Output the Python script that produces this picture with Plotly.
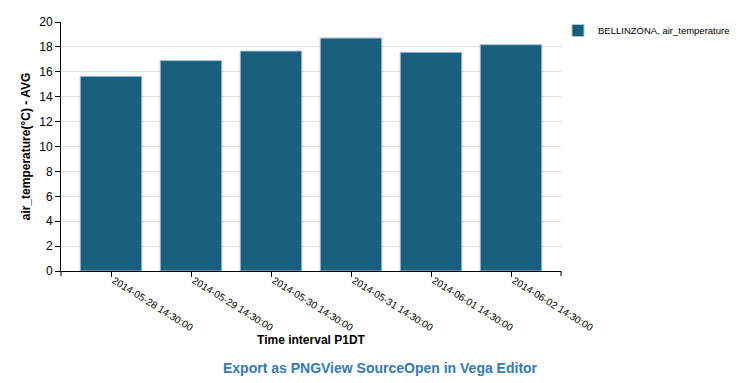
import plotly.graph_objects as go

categories = ["2014-05-28 14:30:00", "2014-05-29 14:30:00", "2014-05-30 14:30:00",
              "2014-05-31 14:30:00", "2014-06-01 14:30:00", "2014-06-02 14:30:00"]
values = [15.64, 16.9, 17.67, 18.71, 17.57, 18.18]
series_name = "BELLINZONA, air_temperature"
y_ticks = list(range(0, 21, 2))

FONT = "Liberation Sans, Arial, sans-serif"
BAR = "#185f7d"

# the page body adds an 8px offset, so the figure is 8px smaller than the window
W, H = 731, 375

fig = go.Figure()
fig.add_trace(go.Bar(
    x=categories, y=values, name=series_name, width=0.77,
    marker=dict(color=BAR, line=dict(color="#a9c6d4", width=1)),
    showlegend=True,
))

fig.update_layout(
    width=W, height=H,
    margin=dict(l=53, r=178, t=14, b=112, autoexpand=False),
    paper_bgcolor="white", plot_bgcolor="white",
    font=dict(family=FONT, size=10, color="#000"),
    showlegend=True,
    legend=dict(xref="container", yref="container", x=550 / W, y=1 - 8 / H,
                xanchor="left", yanchor="top",
                font=dict(size=9.5, color="#000"), itemwidth=30,
                bgcolor="rgba(0,0,0,0)"),
    xaxis=dict(
        type="category", range=[-0.625, 5.625], automargin=False,
        tickangle=32, ticks="outside", ticklen=5, tickcolor="#000",
        ticklabelstandoff=-6, ticklabelshift=3,
        showline=True, linecolor="#000", linewidth=1, showgrid=False,
        tickfont=dict(size=10, color="#000"),
        title=dict(text="<b>Time interval P1DT</b>", font=dict(size=12), standoff=2),
    ),
    yaxis=dict(
        range=[0, 20], tickvals=y_ticks, ticks="outside", ticklen=5, tickcolor="#000",
        showline=True, linecolor="#000", linewidth=1, automargin=False,
        showgrid=True, gridcolor="#dddddd", zeroline=False,
        tickfont=dict(size=12, color="#000"),
        title=dict(text="<b>air_temperature(°C) - AVG</b>", font=dict(size=12), standoff=6),
    ),
    annotations=[dict(
        text="<b>Export as PNGView SourceOpen in Vega Editor</b>",
        xref="paper", yref="paper", x=(380 - 61) / 500, y=-(368 - 271) / 249,
        xanchor="center", yanchor="middle", showarrow=False,
        font=dict(size=14, color="#337ab7", family=FONT),
    )],
    shapes=[
        dict(type="line", xref="paper", yref="paper", x0=0, x1=0, y0=0, y1=-5/249,
             line=dict(color="#000", width=1)),
        dict(type="line", xref="paper", yref="paper", x0=1, x1=1, y0=0, y1=-5/249,
             line=dict(color="#000", width=1)),
    ],
)

fig.write_html("out.html")
